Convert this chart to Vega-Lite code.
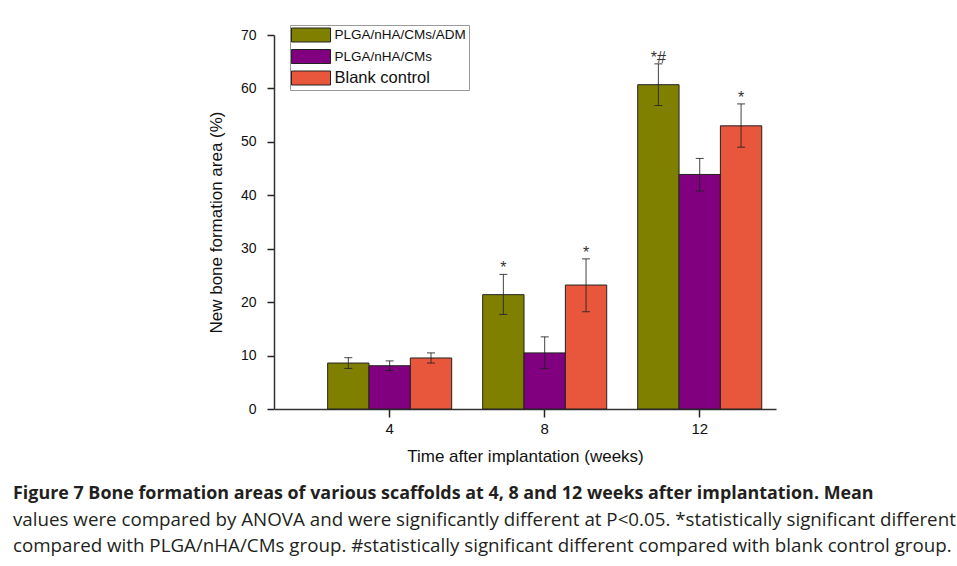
{
  "$schema": "https://vega.github.io/schema/vega-lite/v6.json",
  "autosize": "none",
  "width": 502,
  "height": 374,
  "padding": {"left": 274, "top": 35, "right": 181, "bottom": 157},
  "background": "white",
  "data": {
    "values": [
      {"week": "4", "group": "PLGA/nHA/CMs/ADM", "mean": 8.6, "lo": 7.6, "hi": 9.6, "sig": ""},
      {"week": "4", "group": "PLGA/nHA/CMs", "mean": 8.1, "lo": 7.2, "hi": 9.0, "sig": ""},
      {"week": "4", "group": "Blank control", "mean": 9.55, "lo": 8.6, "hi": 10.5, "sig": ""},
      {"week": "8", "group": "PLGA/nHA/CMs/ADM", "mean": 21.4, "lo": 17.7, "hi": 25.2, "sig": "*"},
      {"week": "8", "group": "PLGA/nHA/CMs", "mean": 10.5, "lo": 7.6, "hi": 13.5, "sig": ""},
      {"week": "8", "group": "Blank control", "mean": 23.2, "lo": 18.2, "hi": 28.1, "sig": "*"},
      {"week": "12", "group": "PLGA/nHA/CMs/ADM", "mean": 60.7, "lo": 56.8, "hi": 64.6, "sig": "*#"},
      {"week": "12", "group": "PLGA/nHA/CMs", "mean": 43.9, "lo": 40.8, "hi": 46.9, "sig": ""},
      {"week": "12", "group": "Blank control", "mean": 53.0, "lo": 49.0, "hi": 57.1, "sig": "*"}
    ]
  },
  "title": {
    "text": "Figure 7 Bone formation areas of various scaffolds at 4, 8 and 12 weeks after implantation. Mean",
    "subtitle": [
      "values were compared by ANOVA and were significantly different at P<0.05. *statistically significant different",
      "compared with PLGA/nHA/CMs group. #statistically significant different compared with blank control group."
    ],
    "orient": "bottom",
    "anchor": "start",
    "frame": "group",
    "dx": -261,
    "offset": 21,
    "font": "Open Sans",
    "fontSize": 17.9,
    "fontWeight": "bold",
    "color": "#231f20",
    "subtitleFont": "Open Sans",
    "subtitleFontSize": 18.75,
    "subtitleFontWeight": "normal",
    "subtitleColor": "#231f20",
    "subtitleLineHeight": 26,
    "subtitlePadding": 8
  },
  "encoding": {
    "x": {
      "field": "week",
      "type": "nominal",
      "sort": ["4", "8", "12"],
      "scale": {"paddingInner": 0.2, "paddingOuter": 0.219, "align": 0.79},
      "axis": {
        "title": "Time after implantation (weeks)",
        "labelAngle": 0,
        "labelFontSize": 15,
        "labelColor": "#111",
        "labelPadding": 4,
        "tickSize": 8,
        "tickColor": "#222",
        "tickWidth": 1.5,
        "domainColor": "#333",
        "domainWidth": 1.5,
        "titleFontSize": 17,
        "titleFontWeight": "normal",
        "titleColor": "#111",
        "titlePadding": 12
      }
    },
    "xOffset": {
      "field": "group",
      "type": "nominal",
      "sort": ["PLGA/nHA/CMs/ADM", "PLGA/nHA/CMs", "Blank control"],
      "scale": {"paddingInner": 0, "paddingOuter": 0}
    }
  },
  "layer": [
    {
      "mark": {"type": "bar", "stroke": "#222", "strokeWidth": 1, "opacity": 1},
      "encoding": {
        "y": {
          "field": "mean",
          "type": "quantitative",
          "scale": {"domain": [0, 70], "nice": false},
          "axis": {
            "title": "New bone formation area (%)",
            "values": [0, 10, 20, 30, 40, 50, 60, 70],
            "grid": false,
            "labelFontSize": 14,
            "labelColor": "#111",
            "labelPadding": 11,
            "tickSize": 7,
            "tickColor": "#222",
            "tickWidth": 1.5,
            "domainColor": "#333",
            "domainWidth": 1.5,
            "titleFontSize": 17,
            "titleFontWeight": "normal",
            "titleColor": "#111",
            "titlePadding": 15
          }
        },
        "fill": {
          "field": "group",
          "type": "nominal",
          "sort": ["PLGA/nHA/CMs/ADM", "PLGA/nHA/CMs", "Blank control"],
          "scale": {"domain": ["PLGA/nHA/CMs/ADM", "PLGA/nHA/CMs", "Blank control"], "range": ["#808000", "#800080", "#e8563c"]},
          "legend": {
            "title": null,
            "orient": "none",
            "legendX": 16,
            "legendY": -10,
            "direction": "vertical",
            "strokeColor": "#999",
            "fillColor": "white",
            "padding": 2.5,
            "symbolType": "M-2.79,-1H2.79V1H-2.79Z",
            "symbolSize": 196,
            "symbolStrokeColor": "#222",
            "symbolStrokeWidth": 1,
            "symbolOffset": 11,
            "labelOffset": 16,
            "labelFontSize": {"expr": "datum.value === 'Blank control' ? 16.5 : 13.5"},
            "labelColor": "#111",
            "rowPadding": 2.5,
            "labelLimit": 300
          }
        }
      }
    },
    {
      "mark": {"type": "rule", "color": "#222", "strokeWidth": 1, "opacity": 0.85},
      "encoding": {
        "y": {"field": "lo", "type": "quantitative"},
        "y2": {"field": "hi"}
      }
    },
    {
      "mark": {"type": "tick", "color": "#222", "thickness": 1, "size": 8, "orient": "horizontal", "opacity": 0.85},
      "encoding": {"y": {"field": "lo", "type": "quantitative"}}
    },
    {
      "mark": {"type": "tick", "color": "#222", "thickness": 1, "size": 8, "orient": "horizontal", "opacity": 0.85},
      "encoding": {"y": {"field": "hi", "type": "quantitative"}}
    },
    {
      "mark": {"type": "text", "baseline": "alphabetic", "dy": -1, "fontSize": 16, "color": "#333", "font": "Liberation Sans"},
      "encoding": {
        "y": {"field": "hi", "type": "quantitative"},
        "text": {"field": "sig"}
      }
    }
  ],
  "config": {
    "font": "Liberation Sans",
    "view": {"stroke": null}
  }
}
